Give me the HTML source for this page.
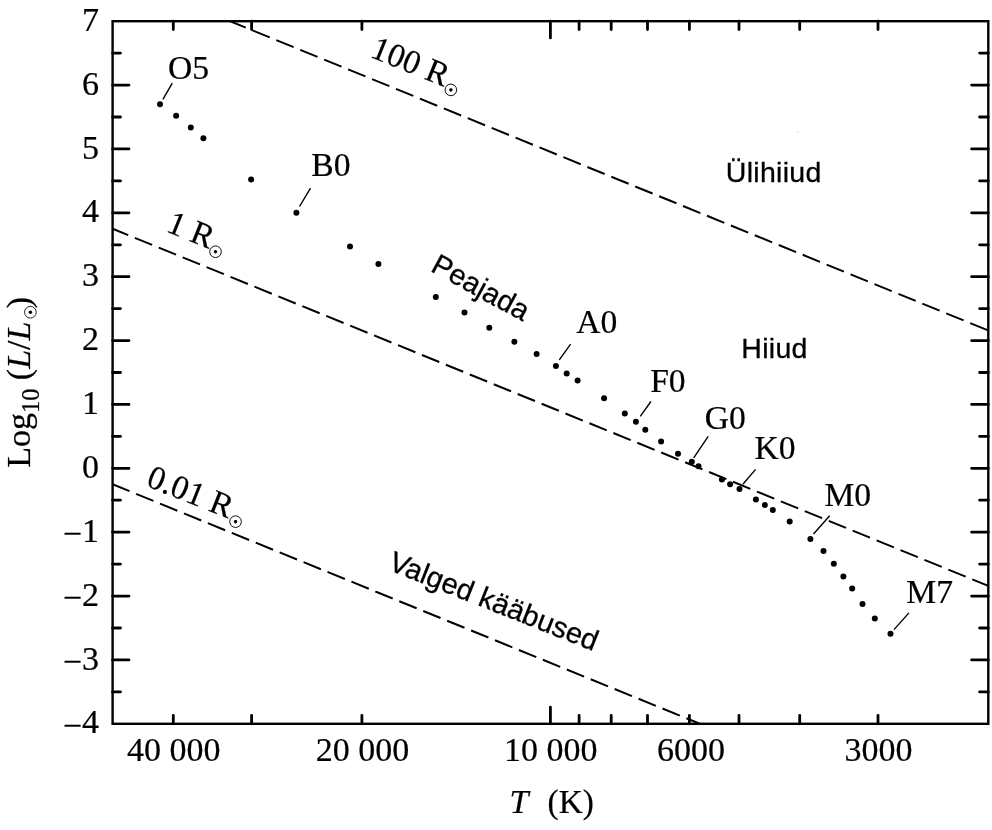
<!DOCTYPE html>
<html><head><meta charset="utf-8"><title>HR diagram</title>
<style>html,body{margin:0;padding:0;background:#fff}body{width:992px;height:830px;overflow:hidden}svg{display:block;will-change:transform;filter:grayscale(1)}.s{font-family:"Liberation Serif",serif;fill:#000;stroke:#000;stroke-width:.22px}.a{font-family:"Liberation Sans",sans-serif;fill:#000}.i{font-style:italic}</style></head><body>
<svg width="992" height="830" viewBox="0 0 992 830">
<rect x="0" y="0" width="992" height="830" fill="#fff"/>
<defs><clipPath id="c"><rect x="112.6" y="21.2" width="875.7" height="702.6"/></clipPath></defs>
<line x1="112.6" y1="-26.7" x2="988.3" y2="330.5" stroke="#000" stroke-width="2" stroke-dasharray="18.7 7.14" stroke-dashoffset="4.06" clip-path="url(#c)"/>
<line x1="112.6" y1="228.8" x2="988.3" y2="585.9" stroke="#000" stroke-width="2" stroke-dasharray="18.7 7.14" stroke-dashoffset="1.83" clip-path="url(#c)"/>
<line x1="112.6" y1="484.3" x2="988.3" y2="841.4" stroke="#000" stroke-width="2" stroke-dasharray="18.7 7.14" stroke-dashoffset="0.46" clip-path="url(#c)"/>
<rect x="112.6" y="21.2" width="875.7" height="702.6" fill="none" stroke="#000" stroke-width="2.4"/>
<path d="M173.3 21.2v8.3 M173.3 723.8v-8.5 M251.6 21.2v8.3 M251.6 723.8v-8.5 M361.9 21.2v8.3 M361.9 723.8v-8.5 M550.4 21.2v16.7 M550.4 723.8v-16.7 M579.1 21.2v8.3 M579.1 723.8v-8.5 M611.2 21.2v8.3 M611.2 723.8v-8.5 M647.5 21.2v8.3 M647.5 723.8v-8.5 M689.4 21.2v8.3 M689.4 723.8v-8.5 M739.0 21.2v8.3 M739.0 723.8v-8.5 M799.7 21.2v8.3 M799.7 723.8v-8.5 M878.0 21.2v8.3 M878.0 723.8v-8.5 M112.6 53.1h7.9 M988.3 53.1h-8.7 M112.6 85.1h16.4 M988.3 85.1h-16.7 M112.6 117.0h7.9 M988.3 117.0h-8.7 M112.6 148.9h16.4 M988.3 148.9h-16.7 M112.6 180.9h7.9 M988.3 180.9h-8.7 M112.6 212.8h16.4 M988.3 212.8h-16.7 M112.6 244.8h7.9 M988.3 244.8h-8.7 M112.6 276.7h16.4 M988.3 276.7h-16.7 M112.6 308.6h7.9 M988.3 308.6h-8.7 M112.6 340.6h16.4 M988.3 340.6h-16.7 M112.6 372.5h7.9 M988.3 372.5h-8.7 M112.6 404.4h16.4 M988.3 404.4h-16.7 M112.6 436.4h7.9 M988.3 436.4h-8.7 M112.6 468.3h16.4 M988.3 468.3h-16.7 M112.6 500.2h7.9 M988.3 500.2h-8.7 M112.6 532.2h16.4 M988.3 532.2h-16.7 M112.6 564.1h7.9 M988.3 564.1h-8.7 M112.6 596.1h16.4 M988.3 596.1h-16.7 M112.6 628.0h7.9 M988.3 628.0h-8.7 M112.6 659.9h16.4 M988.3 659.9h-16.7 M112.6 691.9h7.9 M988.3 691.9h-8.7" stroke="#000" stroke-width="2.8" stroke-linecap="round" fill="none"/>
<g class="s" font-size="34" text-anchor="end"><text x="99.0" y="30.8">7</text><text x="99.0" y="94.7">6</text><text x="99.0" y="158.5">5</text><text x="99.0" y="222.4">4</text><text x="99.0" y="286.3">3</text><text x="99.0" y="350.2">2</text><text x="99.0" y="414.0">1</text><text x="99.0" y="477.9">0</text><text x="99.0" y="541.8"><tspan dy="3.4">−</tspan><tspan dy="-3.4">1</tspan></text><text x="99.0" y="605.7"><tspan dy="3.4">−</tspan><tspan dy="-3.4">2</tspan></text><text x="99.0" y="669.5"><tspan dy="3.4">−</tspan><tspan dy="-3.4">3</tspan></text><text x="99.0" y="733.4"><tspan dy="3.4">−</tspan><tspan dy="-3.4">4</tspan></text></g>
<g class="s" font-size="34" text-anchor="middle"><text x="173.7" y="761.4">40 000</text><text x="362.5" y="761.4">20 000</text><text x="550.7" y="761.4">10 000</text><text x="691.0" y="761.4">6000</text><text x="878.4" y="761.4">3000</text></g>
<text class="s i" font-size="34" x="509.4" y="812.5">T</text>
<text class="s" font-size="33.3" x="547.6" y="812.5">(K)</text>
<g transform="translate(30.4 466.8) rotate(-90)"><text class="s" font-size="34" x="-1" y="0">Log<tspan font-size="24.4" dy="8.2">10</tspan><tspan dy="-8.2"> (</tspan><tspan class="i">L</tspan>/<tspan class="i">L</tspan></text><circle cx="154.6" cy="0" r="5.85" fill="none" stroke="#000" stroke-width="0.85"/><circle cx="154.6" cy="0" r="1.7"/><text class="s" font-size="34" x="158.6" y="0">)</text></g>
<g fill="#000"><circle cx="160" cy="104.2" r="3"/><circle cx="176.1" cy="115.8" r="3"/><circle cx="190.8" cy="127.6" r="3"/><circle cx="203.4" cy="138.2" r="3"/><circle cx="251.1" cy="179.6" r="3"/><circle cx="296.4" cy="212.7" r="3"/><circle cx="350" cy="246.5" r="3"/><circle cx="378.4" cy="263.9" r="3"/><circle cx="435.8" cy="296.9" r="3"/><circle cx="464.5" cy="312.5" r="3"/><circle cx="489.3" cy="327.7" r="3"/><circle cx="514.4" cy="341.7" r="3"/><circle cx="536.6" cy="354.1" r="3"/><circle cx="555.9" cy="366.1" r="3"/><circle cx="566.7" cy="373.6" r="3"/><circle cx="577.6" cy="380.4" r="3"/><circle cx="604.1" cy="398.2" r="3"/><circle cx="624.8" cy="413.6" r="3"/><circle cx="635.9" cy="421.8" r="3"/><circle cx="645.3" cy="429.8" r="3"/><circle cx="661.1" cy="441.5" r="3"/><circle cx="678" cy="453.7" r="3"/><circle cx="691.8" cy="461.7" r="3"/><circle cx="698.5" cy="466.2" r="3"/><circle cx="721.9" cy="479.4" r="3"/><circle cx="730.1" cy="484.2" r="3"/><circle cx="739.5" cy="489" r="3"/><circle cx="755.9" cy="499.6" r="3"/><circle cx="764.8" cy="504.9" r="3"/><circle cx="772.8" cy="510" r="3"/><circle cx="789.7" cy="521.5" r="3"/><circle cx="810.4" cy="539.1" r="3"/><circle cx="823.5" cy="551" r="3"/><circle cx="833.8" cy="563.7" r="3"/><circle cx="843.4" cy="576.6" r="3"/><circle cx="852.2" cy="588.4" r="3"/><circle cx="862.5" cy="603.9" r="3"/><circle cx="874.8" cy="618.6" r="3"/><circle cx="890.5" cy="633.7" r="3"/></g>
<path d="M162.9 99.4L172.3 83.2 M299.5 206.5L310.5 188.2 M559.3 359.9L570.6 344.2 M640.3 416.4L650.9 401.5 M693.7 457.8L708.2 436.3 M742.9 484.3L755.6 469.4 M813.5 534.0L829.7 515.8 M894.0 629.6L908.9 612.9" stroke="#000" stroke-width="1.4" fill="none"/>
<g class="s" font-size="33.6"><text x="168.1" y="79.0">O5</text><text x="311.3" y="176.3">B0</text><text x="576.2" y="333.4">A0</text><text x="650.2" y="391.6">F0</text><text x="704.7" y="428.6">G0</text><text x="754.5" y="458.8">K0</text><text x="824.5" y="506.2">M0</text><text x="906.3" y="603.3">M7</text></g>
<g class="a" font-size="29" stroke="#000" stroke-width="0.3"><text x="725.8" y="181.5" font-size="28.5" letter-spacing="0.3">Ülihiiud</text><text x="741.3" y="358.3" font-size="28.5" letter-spacing="0.3">Hiiud</text><text transform="translate(429.4 270.6) rotate(28.6)">Peajada</text><text transform="translate(387.2 569.4) rotate(21.6)">Valged kääbused</text></g>
<g transform="translate(369.0 56.5) rotate(22)"><text class="s" font-size="33.5">100 R</text><circle cx="88.4" cy="0.3" r="5.8" fill="none" stroke="#000" stroke-width="0.85"/><circle cx="88.4" cy="0.3" r="1.7"/></g>
<g transform="translate(165 231) rotate(22)"><text class="s" font-size="33.5">1 R</text><circle cx="54.6" cy="0.3" r="5.8" fill="none" stroke="#000" stroke-width="0.85"/><circle cx="54.6" cy="0.3" r="1.7"/></g>
<g transform="translate(145 485.5) rotate(21.6)"><text class="s" font-size="33.5">0.01 R</text><circle cx="97.5" cy="0.3" r="5.8" fill="none" stroke="#000" stroke-width="0.85"/><circle cx="97.5" cy="0.3" r="1.7"/></g>
<path d="M796.6 132.4l2.6-1.3" stroke="#dcdcdc" stroke-width="1" fill="none"/>
</svg></body></html>
